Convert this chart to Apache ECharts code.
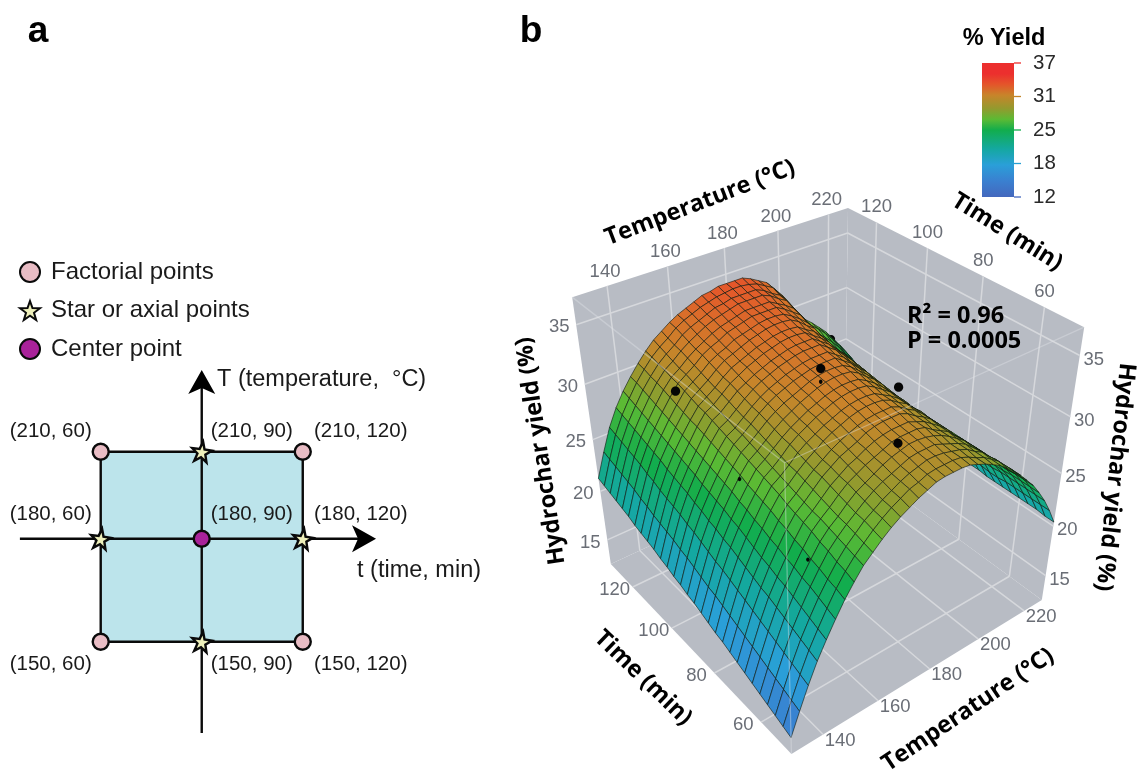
<!DOCTYPE html>
<html><head><meta charset="utf-8">
<script src="https://cdn.jsdelivr.net/npm/echarts@6/dist/echarts.min.js"></script>
<style>html,body{margin:0;padding:0;background:#fff}#c{width:1138px;height:771px}</style></head>
<body><div id="c"></div>
<script>
// ---------- panel a data ----------
const factorialPoints=[[60,150],[120,150],[60,210],[120,210]];
const axialPoints=[[60,180],[120,180],[90,150],[90,210]];
const centerPoints=[[90,180]];
const labelDx={60:-50,90:50,120:58};
const labelDy={150:23,180:-24,210:-20};
// ---------- panel b data ----------
const timeRange=[48,132], tempRange=[129,228], yieldRange=[12.4,37.2];
const timeTicks=[60,80,100,120], tempTicks=[140,160,180,200,220], yieldTicks=[15,20,25,30,35];
const surfaceTemps=[129,132,135,138,141,144,147,150,153,156,159,162,165,168,171,174,177,180,183,186,189,192,195,198,201,204,207,210,213,216,219,222,225,228];
const surfaceTimes=[48,51,54,57,60,63,66,69,72,75,78,81,84,87,90,93,96,99,102,105,108,111,114,117,120,123,126,129,132];
const yieldTable=[
[14.1,16.2,18.2,20.0,21.5,22.9,24.2,25.3,26.3,27.0,27.7,28.3,28.8,29.2,29.6,29.9,30.2,30.3,30.3,30.3,30.2,29.9,29.6,29.2,28.8,28.2,27.6,26.9,26.1,25.3,24.3,23.2,21.9,20.4],
[14.4,16.5,18.5,20.3,21.8,23.2,24.5,25.6,26.5,27.2,27.9,28.5,29.0,29.4,29.8,30.0,30.3,30.4,30.4,30.4,30.3,30.0,29.6,29.3,28.8,28.3,27.6,26.9,26.1,25.3,24.3,23.2,21.9,20.4],
[14.7,16.8,18.8,20.6,22.1,23.5,24.7,25.8,26.7,27.4,28.1,28.6,29.1,29.5,29.9,30.2,30.4,30.6,30.6,30.5,30.3,30.1,29.8,29.3,28.9,28.2,27.6,26.8,26.0,25.3,24.3,23.2,21.9,20.5],
[15.0,17.1,19.1,20.9,22.4,23.8,25.0,26.1,26.9,27.6,28.2,28.8,29.3,29.7,30.0,30.3,30.6,30.7,30.7,30.7,30.4,30.1,29.8,29.4,28.8,28.2,27.4,26.8,26.0,25.2,24.3,23.2,21.9,20.5],
[15.3,17.4,19.4,21.2,22.7,24.0,25.2,26.3,27.1,27.7,28.4,29.0,29.4,29.8,30.2,30.5,30.7,30.9,30.9,30.8,30.6,30.3,29.9,29.4,28.9,28.2,27.5,26.8,26.0,25.2,24.2,23.2,21.9,20.5],
[15.6,17.7,19.7,21.5,23.0,24.3,25.5,26.6,27.3,27.9,28.6,29.2,29.6,30.0,30.3,30.6,30.9,31.0,31.0,31.0,30.8,30.3,29.9,29.5,28.8,28.2,27.5,26.8,26.0,25.2,24.2,23.2,21.9,20.5],
[15.9,18.0,20.0,21.8,23.2,24.5,25.7,26.8,27.4,28.1,28.8,29.3,29.8,30.1,30.5,30.8,31.0,31.1,31.1,31.1,30.8,30.5,30.0,29.5,28.9,28.1,27.5,26.6,25.8,25.1,24.1,23.1,21.8,20.5],
[16.2,18.3,20.3,22.0,23.5,24.8,26.0,27.0,27.6,28.3,29.0,29.5,30.0,30.3,30.6,31.0,31.2,31.3,31.3,31.3,31.0,30.5,30.1,29.6,28.9,28.2,27.5,26.6,25.8,25.1,24.1,23.1,21.8,20.5],
[16.5,18.6,20.6,22.3,23.7,25.0,26.2,27.2,27.8,28.5,29.1,29.6,30.1,30.5,30.8,31.1,31.3,31.4,31.4,31.4,31.1,30.6,30.2,29.6,28.9,28.2,27.4,26.5,25.8,25.0,24.1,23.0,21.9,20.5],
[16.8,18.9,20.9,22.6,24.0,25.3,26.5,27.5,28.0,28.7,29.3,29.8,30.3,30.7,31.0,31.3,31.5,31.6,31.6,31.5,31.2,30.7,30.3,29.6,29.0,28.2,27.4,26.5,25.8,25.0,24.1,23.0,21.9,20.6],
[17.0,19.2,21.2,22.9,24.3,25.5,26.7,27.7,28.2,28.8,29.5,30.0,30.4,30.8,31.1,31.4,31.6,31.7,31.7,31.6,31.2,30.8,30.3,29.6,28.9,28.2,27.3,26.4,25.7,25.0,24.1,23.0,21.9,20.6],
[17.3,19.5,21.5,23.2,24.6,25.8,26.9,27.9,28.4,29.0,29.7,30.2,30.6,31.0,31.3,31.6,31.8,31.9,31.9,31.8,31.4,30.9,30.4,29.7,29.0,28.2,27.3,26.4,25.7,25.0,24.1,23.0,21.9,20.6],
[17.6,19.7,21.7,23.4,24.8,26.0,27.1,28.1,28.6,29.2,29.8,30.3,30.7,31.1,31.4,31.7,31.9,32.0,32.0,31.9,31.5,31.0,30.4,29.7,29.0,28.2,27.3,26.4,25.7,24.9,24.0,23.0,21.9,20.6],
[17.9,20.0,22.0,23.7,25.1,26.3,27.4,28.3,28.8,29.4,30.0,30.5,30.9,31.3,31.6,31.9,32.1,32.2,32.2,32.1,31.7,31.1,30.6,29.9,29.1,28.3,27.3,26.4,25.7,24.9,24.0,23.0,21.9,20.7],
[18.1,20.3,22.3,23.9,25.3,26.5,27.6,28.5,29.0,29.6,30.2,30.7,31.1,31.4,31.7,32.0,32.2,32.3,32.3,32.2,31.8,31.2,30.6,29.9,29.2,28.3,27.5,26.4,25.7,25.0,24.1,23.1,22.0,20.8],
[18.4,20.6,22.6,24.2,25.5,26.7,27.8,28.7,29.2,29.8,30.4,30.9,31.3,31.6,31.9,32.1,32.3,32.4,32.4,32.4,31.9,31.4,30.7,30.1,29.3,28.4,27.6,26.5,25.8,25.1,24.2,23.2,22.1,20.9],
[18.6,20.8,22.8,24.4,25.7,26.9,28.0,28.9,29.3,29.9,30.5,31.0,31.4,31.7,32.0,32.2,32.4,32.5,32.5,32.5,32.0,31.5,30.8,30.1,29.4,28.5,27.6,26.6,25.9,25.2,24.4,23.4,22.3,21.1],
[18.9,21.1,23.1,24.7,26.0,27.1,28.2,29.1,29.5,30.1,30.7,31.2,31.6,31.9,32.2,32.4,32.6,32.7,32.7,32.7,32.2,31.7,31.0,30.3,29.5,28.7,27.8,26.7,26.0,25.3,24.4,23.5,22.4,21.3],
[19.1,21.3,23.3,24.9,26.2,27.3,28.4,29.3,29.7,30.3,30.9,31.3,31.7,32.0,32.3,32.5,32.7,32.8,32.8,32.8,32.3,31.8,31.1,30.4,29.6,28.8,27.9,26.9,26.2,25.5,24.6,23.7,22.6,21.5],
[19.4,21.5,23.5,25.1,26.4,27.5,28.6,29.5,29.9,30.5,31.1,31.5,31.9,32.2,32.5,32.7,32.9,33.0,33.0,32.9,32.4,31.9,31.3,30.4,29.5,28.6,27.6,26.5,25.8,25.1,24.2,23.3,22.2,21.1],
[19.6,21.7,23.7,25.3,26.6,27.7,28.7,29.6,30.1,30.6,31.2,31.7,32.0,32.3,32.6,32.8,33.0,33.1,33.1,33.0,32.5,32.1,31.4,30.6,29.5,28.6,27.5,26.5,25.8,25.1,24.3,23.4,22.3,21.2],
[19.8,22.0,24.0,25.6,26.8,27.9,28.9,29.8,30.3,30.8,31.4,31.9,32.2,32.5,32.8,33.0,33.2,33.3,33.3,33.2,32.8,32.2,31.7,30.7,29.7,28.6,27.4,26.5,25.8,25.1,24.3,23.4,22.4,21.3],
[20.0,22.2,24.2,25.8,27.0,28.1,29.1,30.0,30.5,31.0,31.6,32.0,32.3,32.7,32.9,33.1,33.3,33.4,33.4,33.3,32.9,32.4,31.8,30.8,29.8,28.7,27.3,26.4,25.8,25.1,24.3,23.3,22.4,21.3],
[20.3,22.5,24.5,26.0,27.2,28.3,29.3,30.2,30.7,31.2,31.8,32.2,32.5,32.9,33.1,33.3,33.5,33.5,33.5,33.5,33.1,32.6,32.1,31.1,30.1,29.0,27.7,26.8,26.2,25.5,24.7,23.7,22.8,21.7],
[20.5,22.7,24.7,26.2,27.4,28.5,29.5,30.3,30.8,31.4,31.9,32.3,32.7,33.0,33.2,33.4,33.6,33.6,33.6,33.6,33.2,32.8,32.3,31.3,30.3,29.3,28.1,27.1,26.5,25.8,25.1,24.1,23.2,22.1],
[20.7,22.9,24.9,26.4,27.6,28.7,29.7,30.5,31.0,31.6,32.1,32.5,32.9,33.2,33.4,33.6,33.8,33.8,33.8,33.8,33.5,33.0,32.6,31.6,30.7,29.6,28.5,27.5,26.9,26.2,25.5,24.5,23.6,22.6],
[20.9,23.1,25.1,26.6,27.8,28.9,29.8,30.6,31.2,31.7,32.3,32.7,33.0,33.3,33.6,33.7,33.9,33.9,33.9,33.9,33.6,33.1,32.7,31.8,30.8,29.8,28.7,27.9,27.3,26.6,25.8,24.9,24.0,23.0],
[21.1,23.3,25.3,26.8,28.0,29.1,30.0,30.8,31.4,31.9,32.5,32.9,33.2,33.5,33.7,33.9,34.0,34.1,34.1,34.0,33.8,33.4,33.0,32.1,31.2,30.2,29.1,28.3,27.7,27.0,26.2,25.3,24.4,23.4],
[21.3,23.5,25.5,27.0,28.2,29.2,30.1,30.9,31.6,32.1,32.6,33.0,33.3,33.6,33.9,34.0,34.2,34.2,34.2,34.2,33.9,33.5,33.1,32.3,31.5,30.4,29.3,28.5,27.9,27.2,26.5,25.6,24.7,23.7]
];
const frontDots=[[120,151,29],[90,178,32.7],[60,176,31.4],[90,208,28.2]];
const smallDots=[[90,178,31.6],[90,149,26.3],[60,146,25.3]];
const hiddenDots=[[120,210,28.2]];
const colorbarTicks=[12,18.25,24.5,30.75,37];
const colorStops=[[12,'#4468bd'],[15,'#3a80d0'],[18,'#2a9fd8'],[21,'#14a8a0'],[24.5,'#12ad4c'],[26.5,'#5cba34'],[28.5,'#939a2e'],[31,'#c8842a'],[33,'#e4552a'],[35,'#ec2f2e'],[37,'#ec2f2e']];
const surfaceStops=[[12,'#4468bd'],[15,'#3a80d0'],[18,'#2a9fd8'],[21.5,'#14a8a0'],[25,'#12ad4c'],[27.5,'#5cba34'],[29.3,'#939a2e'],[31.5,'#c8842a'],[33,'#d9702a'],[34.5,'#e8502a'],[37,'#ec2f2e']];
// camera calibration: box corners in unit coordinates -> page position
const boxCorners=[[0,0,0,791,754],[1,0,0,611,564],[0,1,0,1042,600],[1,0,1,572,297],[1,1,1,848,208],[0,1,1,1084,327],[0,0,1,785,463]];

function solveCamera(){
  const A=[],B=[];
  boxCorners.forEach(([a,b,c,X,Y])=>{
    A.push([1,a,b,c,0,0,0,0,-X*a,-X*b,-X*c]);B.push(X);
    A.push([0,0,0,0,1,a,b,c,-Y*a,-Y*b,-Y*c]);B.push(Y);
  });
  const n=11,M=[];
  for(let i=0;i<n;i++){M[i]=[];for(let j=0;j<n;j++){let s=0;A.forEach(r=>s+=r[i]*r[j]);M[i][j]=s;}
    let s=0;A.forEach((r,k)=>s+=r[i]*B[k]);M[i][n]=s;}
  for(let i=0;i<n;i++){let p=i;for(let k=i+1;k<n;k++)if(Math.abs(M[k][i])>Math.abs(M[p][i]))p=k;
    [M[i],M[p]]=[M[p],M[i]];
    for(let k=0;k<n;k++){if(k===i)continue;const f=M[k][i]/M[i][i];for(let j=i;j<=n;j++)M[k][j]-=f*M[i][j];}}
  return M.map((r,i)=>r[n]/r[i]);
}
const cam=solveCamera();
function project(t,T,z){
  const u=(t-timeRange[0])/(timeRange[1]-timeRange[0]);
  const b=(T-tempRange[0])/(tempRange[1]-tempRange[0]);
  const c=(z-yieldRange[0])/(yieldRange[1]-yieldRange[0]);
  const w=1+cam[8]*u+cam[9]*b+cam[10]*c;
  return [(cam[0]+cam[1]*u+cam[2]*b+cam[3]*c)/w,(cam[4]+cam[5]*u+cam[6]*b+cam[7]*c)/w];
}
const hex=h=>[1,3,5].map(i=>parseInt(h.substr(i,2),16));
function colorAt(v,stops){
  for(let i=1;i<stops.length;i++){
    if(v<=stops[i][0]){
      const [v0,c0]=stops[i-1],[v1,c1]=stops[i];
      const f=Math.max(0,(v-v0)/(v1-v0)),p=hex(c0),q=hex(c1);
      return 'rgb('+p.map((x,k)=>Math.round(x+(q[k]-x)*f)).join(',')+')';
    }
  }
  return stops[stops.length-1][1];
}
const [tMin,tMax]=timeRange,[TMin,TMax]=tempRange,[zMin,zMax]=yieldRange;
const walls=[
  [[tMax,TMin,zMin],[tMax,TMax,zMin],[tMax,TMax,zMax],[tMax,TMin,zMax]],
  [[tMax,TMax,zMin],[tMin,TMax,zMin],[tMin,TMax,zMax],[tMax,TMax,zMax]],
  [[tMin,TMin,zMin],[tMax,TMin,zMin],[tMax,TMax,zMin],[tMin,TMax,zMin]]
];
const gridSegments=[];
yieldTicks.forEach(z=>{gridSegments.push([[tMax,TMin,z],[tMax,TMax,z]],[[tMax,TMax,z],[tMin,TMax,z]]);});
tempTicks.forEach(T=>{gridSegments.push([[tMax,T,zMin],[tMax,T,zMax]],[[tMin,T,zMin],[tMax,T,zMin]]);});
timeTicks.forEach(t=>{gridSegments.push([[t,TMax,zMin],[t,TMax,zMax]],[[t,TMin,zMin],[t,TMax,zMin]]);});
const frontEdges=[[[tMax,TMin,zMax],[tMin,TMin,zMax]],[[tMin,TMin,zMax],[tMin,TMax,zMax]],[[tMin,TMin,zMin],[tMin,TMin,zMax]]];
const tickLabels=[];
tempTicks.forEach(T=>{tickLabels.push({p:[tMax,T,zMax],o:[-2,-14],s:T});tickLabels.push({p:[tMin,T,zMin],o:[17,6],s:T});});
timeTicks.forEach(t=>{tickLabels.push({p:[t,TMax,zMax],o:[0,-15],s:t});tickLabels.push({p:[t,TMin,zMin],o:[-18,3],s:t});});
yieldTicks.forEach(z=>{tickLabels.push({p:[tMax,TMin,z],o:[-17,2.5],s:z});tickLabels.push({p:[tMin,TMax,z],o:[14,4],s:z});});
const quads=[];
for(let i=surfaceTimes.length-2;i>=0;i--)for(let j=surfaceTemps.length-2;j>=0;j--)quads.push([i,j]);

function dotSeries(data,r,rx,z){
  return {type:'custom',xAxisIndex:1,yAxisIndex:1,z:z,silent:true,animation:false,clip:false,data:data,
    renderItem:(p,api)=>{const d=data[p.dataIndex],q=api.coord(project(d[0],d[1],d[2]));
      return {type:'ellipse',shape:{cx:q[0],cy:q[1],rx:rx,ry:r},style:{fill:'#050505'}};}};
}
const ptLabel=(d)=>({value:d,label:{show:true,position:'inside',formatter:'('+d[1]+', '+d[0]+')',offset:[labelDx[d[0]],labelDy[d[1]]],color:'#1a1a1a',fontSize:20.5,fontFamily:'Liberation Sans'}});
const starPath='path://M0,-10L2.35,-3.24L9.51,-3.09L3.8,1.24L5.88,8.09L0,4L-5.88,8.09L-3.8,1.24L-9.51,-3.09L-2.35,-3.24Z';
const arrowPath='path://M13,0L26,24L13,18L0,24Z';
const titleFont='700 23.5px "Open Sans"';
const txt=(s,x,y,deg,font,fill,align)=>({type:'text',x:x,y:y,rotation:deg*Math.PI/180,z:50,style:{text:s,font:font,fill:fill||'#000',align:align||'center',verticalAlign:'middle'}});

const option={
  animation:false,backgroundColor:'#fff',
  grid:[
    {left:19.9,top:376.3,width:350.2,height:391.4},
    {left:0,top:0,width:1138,height:771},
    {left:982,top:63,width:32,height:134}
  ],
  xAxis:[
    {type:'value',gridIndex:0,min:36,max:140,show:false},
    {type:'value',gridIndex:1,min:0,max:1138,show:false},
    {type:'value',gridIndex:2,min:0,max:1,show:false}
  ],
  yAxis:[
    {type:'log',logBase:Math.E,gridIndex:0,min:120,max:240,show:false},
    {type:'value',gridIndex:1,min:0,max:771,inverse:true,show:false},
    {type:'value',gridIndex:2,min:12,max:37,position:'right',
      axisLine:{show:false},axisTick:{show:false},splitLine:{show:false},
      axisLabel:{customValues:colorbarTicks,margin:19,fontSize:20.5,color:'#2a2a2a',fontFamily:'Liberation Sans',formatter:v=>String(Math.round(v))}}
  ],
  legend:{orient:'vertical',left:14,top:255,itemWidth:20,itemHeight:20,itemGap:14.5,selectedMode:false,
    data:['Factorial points','Star or axial points','Center point'],
    textStyle:{fontSize:24,color:'#1a1a1a',fontFamily:'Liberation Sans',padding:[0,0,0,6]}},
  graphic:[
    txt('a',38,32,0,'700 37px "Liberation Sans"'),
    txt('b',531,32,0,'700 37px "Liberation Sans"'),
    txt('T (temperature,  °C)',217,380,0,'23.5px "Liberation Sans"','#1a1a1a','left'),
    txt('t (time, min)',357,571,0,'23.5px "Liberation Sans"','#1a1a1a','left'),
    txt('% Yield',1004,39,0,'700 23.5px "Liberation Sans"'),
    txt('Temperature (°C)',700,203,21,titleFont),
    txt('Time (min)',1007,232,-32,titleFont),
    txt('Hydrochar yield (%)',541,451,98.5,titleFont),
    txt('Hydrochar yield (%)',1115,477,-96,titleFont),
    txt('Time (min)',643,678,-44,titleFont),
    txt('Temperature (°C)',968,710,34,titleFont),
    txt('R² = 0.96',907,316,0,'700 23.5px "Open Sans"','#000','left'),
    txt('P = 0.0005',907,341,0,'700 23.5px "Open Sans"','#000','left')
  ],
  series:[
    {type:'custom',name:'Design region',xAxisIndex:0,yAxisIndex:0,z:1,silent:true,data:[[60,150,120,210]],
      renderItem:(p,api)=>{const a=api.coord([api.value(0),api.value(1)]),b=api.coord([api.value(2),api.value(3)]);
        return {type:'rect',shape:{x:a[0],y:b[1],width:b[0]-a[0],height:a[1]-b[1]},style:{fill:'#bce4eb',stroke:'#0a0a0a',lineWidth:2.4}};}},
    {type:'line',name:'t axis',xAxisIndex:0,yAxisIndex:0,z:2,silent:true,showSymbol:true,lineStyle:{color:'#0a0a0a',width:2.4},itemStyle:{color:'#000'},
      data:[{value:[36,180],symbol:'none'},{value:[138.2,180],symbol:arrowPath,symbolSize:[27,24],symbolRotate:-90}]},
    {type:'line',name:'T axis',xAxisIndex:0,yAxisIndex:0,z:2,silent:true,showSymbol:true,lineStyle:{color:'#0a0a0a',width:2.4},itemStyle:{color:'#000'},
      data:[{value:[90,127.6],symbol:'none'},{value:[90,237.6],symbol:arrowPath,symbolSize:[27,24]}]},
    {type:'scatter',name:'Factorial points',xAxisIndex:0,yAxisIndex:0,z:3,silent:true,symbol:'circle',symbolSize:16,
      itemStyle:{color:'#e8bcc4',borderColor:'#0a0a0a',borderWidth:2.4,opacity:1},data:factorialPoints.map(ptLabel)},
    {type:'scatter',name:'Star or axial points',xAxisIndex:0,yAxisIndex:0,z:3,silent:true,symbol:starPath,symbolSize:20,symbolRotate:-8,
      itemStyle:{color:'#eef0bb',borderColor:'#0a0a0a',borderWidth:2.4,opacity:1},data:axialPoints.map(ptLabel)},
    {type:'scatter',name:'Center point',xAxisIndex:0,yAxisIndex:0,z:3,silent:true,symbol:'circle',symbolSize:16,
      itemStyle:{color:'#a9229a',borderColor:'#0a0a0a',borderWidth:2.4,opacity:1},data:centerPoints.map(ptLabel)},
    // 3D scene
    {type:'custom',name:'walls',xAxisIndex:1,yAxisIndex:1,z:4,silent:true,clip:false,data:walls.map((w,i)=>i),
      renderItem:(p,api)=>({type:'polygon',shape:{points:walls[p.dataIndex].map(q=>api.coord(project(q[0],q[1],q[2])))},style:{fill:'#b8bcc4'}})},
    {type:'custom',name:'grid',xAxisIndex:1,yAxisIndex:1,z:5,silent:true,clip:false,data:gridSegments.map((w,i)=>i),
      renderItem:(p,api)=>{const s=gridSegments[p.dataIndex],u=api.coord(project(...s[0])),v=api.coord(project(...s[1]));
        return {type:'line',shape:{x1:u[0],y1:u[1],x2:v[0],y2:v[1]},style:{stroke:'#d6d8dc',lineWidth:1.5}};}},
    dotSeries(hiddenDots,4,4,6),
    {type:'custom',name:'% Yield surface',xAxisIndex:1,yAxisIndex:1,z:7,silent:true,clip:false,progressive:0,data:quads,
      renderItem:(p,api)=>{const [i,j]=quads[p.dataIndex];
        const c=[[i,j],[i+1,j],[i+1,j+1],[i,j+1]];
        let m=0;const pts=c.map(([r,s])=>{const z=yieldTable[r][s];m+=z;return api.coord(project(surfaceTimes[r],surfaceTemps[s],z));});
        return {type:'polygon',shape:{points:pts},style:{fill:colorAt(m/4,surfaceStops),stroke:'rgba(15,25,15,0.72)',lineWidth:0.85}};}},
    {type:'custom',name:'box edges',xAxisIndex:1,yAxisIndex:1,z:8,silent:true,clip:false,data:frontEdges.map((w,i)=>i),
      renderItem:(p,api)=>{const s=frontEdges[p.dataIndex],u=api.coord(project(...s[0])),v=api.coord(project(...s[1]));
        return {type:'line',shape:{x1:u[0],y1:u[1],x2:v[0],y2:v[1]},style:{stroke:'rgba(225,228,232,0.4)',lineWidth:1.3}};}},
    dotSeries(frontDots,4.6,4.6,9),
    dotSeries(smallDots,2.2,1.8,9),
    {type:'custom',name:'tick labels',xAxisIndex:1,yAxisIndex:1,z:10,silent:true,clip:false,data:tickLabels.map((w,i)=>i),
      renderItem:(p,api)=>{const l=tickLabels[p.dataIndex],q=api.coord(project(...l.p));
        return {type:'text',x:q[0]+l.o[0],y:q[1]+l.o[1],style:{text:String(l.s),font:'18.5px "Liberation Sans"',fill:'#6a6e76',align:'center',verticalAlign:'middle'}};}},
    // colour bar
    {type:'custom',name:'colour bar',xAxisIndex:2,yAxisIndex:2,z:4,silent:true,clip:false,data:[[0,12,1,37]],
      renderItem:(p,api)=>{const a=api.coord([0,12]),b=api.coord([1,37]);
        const stops=colorStops.map(([v,c])=>({offset:(v-12)/25,color:c}));
        return {type:'rect',shape:{x:a[0],y:b[1],width:b[0]-a[0],height:a[1]-b[1]},style:{fill:new echarts.graphic.LinearGradient(0,1,0,0,stops)}};}},
    {type:'custom',name:'colour ticks',xAxisIndex:2,yAxisIndex:2,z:4,silent:true,clip:false,data:colorbarTicks,
      renderItem:(p,api)=>{const v=colorbarTicks[p.dataIndex],a=api.coord([1,v]);
        return {type:'line',shape:{x1:a[0],y1:a[1],x2:a[0]+7,y2:a[1]},style:{stroke:colorAt(v,colorStops),lineWidth:1.3}};}}
  ]
};
echarts.init(document.getElementById('c'),null,{renderer:'canvas'}).setOption(option);
</script></body></html>
